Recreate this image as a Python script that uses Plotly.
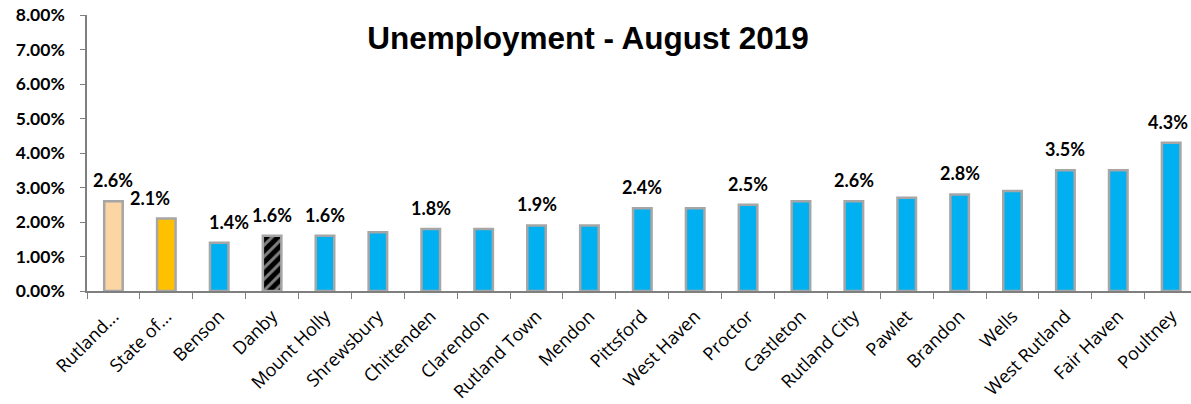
import plotly.graph_objects as go

categories = ["Rutland...", "State of...", "Benson", "Danby", "Mount Holly", "Shrewsbury",
              "Chittenden", "Clarendon", "Rutland Town", "Mendon", "Pittsford", "West Haven",
              "Proctor", "Castleton", "Rutland City", "Pawlet", "Brandon", "Wells",
              "West Rutland", "Fair Haven", "Poultney"]
rates = [0.026, 0.021, 0.014, 0.016, 0.016, 0.017, 0.018, 0.018, 0.019, 0.019, 0.024, 0.024,
         0.025, 0.026, 0.026, 0.027, 0.028, 0.029, 0.035, 0.035, 0.043]
labeled = [True, True, True, True, True, False, True, False, True, False, True, False,
           True, False, True, False, True, False, True, False, True]
title_text = "Unemployment - August 2019"

# styles
bar_colors = ["#FCD5A5", "#FFC000"] + ["#00B0F0"] * (len(categories) - 2)
bar_colors = ["black" if c == "Danby" else col for c, col in zip(categories, bar_colors)]
patterns = ["/" if c == "Danby" else "" for c in categories]
label_xshift = {"State of...": -16, "Benson": 10, "Poultney": -3}

W, H = 1191, 404

fig = go.Figure()
fig.add_trace(go.Bar(
    x=categories, y=rates, width=0.35,
    marker=dict(color=bar_colors, line=dict(color="#A6A6A6", width=2.5),
                pattern=dict(shape=patterns, fgcolor="#00B0F0", size=8, solidity=0.38,
                             fillmode="overlay")),
    hoverinfo="x+y",
))

for c, v, show in zip(categories, rates, labeled):
    if show:
        fig.add_annotation(x=c, y=v, text=f"{v*100:.1f}%", showarrow=False,
                           yanchor="middle", yshift=21, xshift=label_xshift.get(c, 0),
                           font=dict(family="Lato", size=18, color="black", weight="bold"))

fig.update_layout(
    width=W, height=H,
    margin=dict(l=87, r=0, t=15, b=113),
    paper_bgcolor="white", plot_bgcolor="white",
    showlegend=False,
    title=dict(text=title_text, x=588 / W, y=1 - 38 / H, xref="container", yref="container",
               xanchor="center", yanchor="middle",
               font=dict(family="Liberation Sans", size=31.5, color="black", weight="bold")),
)
fig.update_xaxes(range=[-0.5, 20.375], tickson="boundaries", ticks="outside", ticklen=6,
                 tickcolor="#7F7F7F", showline=True, linecolor="#7F7F7F", linewidth=1.5,
                 tickangle=-45, showgrid=False, automargin=False, ticklabelstandoff=6,
                 tickfont=dict(family="Open Sans", size=18, color="black"))
fig.update_yaxes(range=[0, 0.08], dtick=0.01, tickformat=".2%", ticks="outside", ticklen=5,
                 tickcolor="#7F7F7F", showline=True, linecolor="#7F7F7F", linewidth=1.5,
                 showgrid=False, zeroline=False, ticklabelstandoff=12, automargin=False,
                 ticklabeloverflow="allow",
                 tickfont=dict(family="Lato", size=17.5, color="black", weight="bold"))

fig.write_html("out.html", config={"displayModeBar": False},
               post_script="document.body.style.margin='0';document.body.style.overflow='hidden';")
